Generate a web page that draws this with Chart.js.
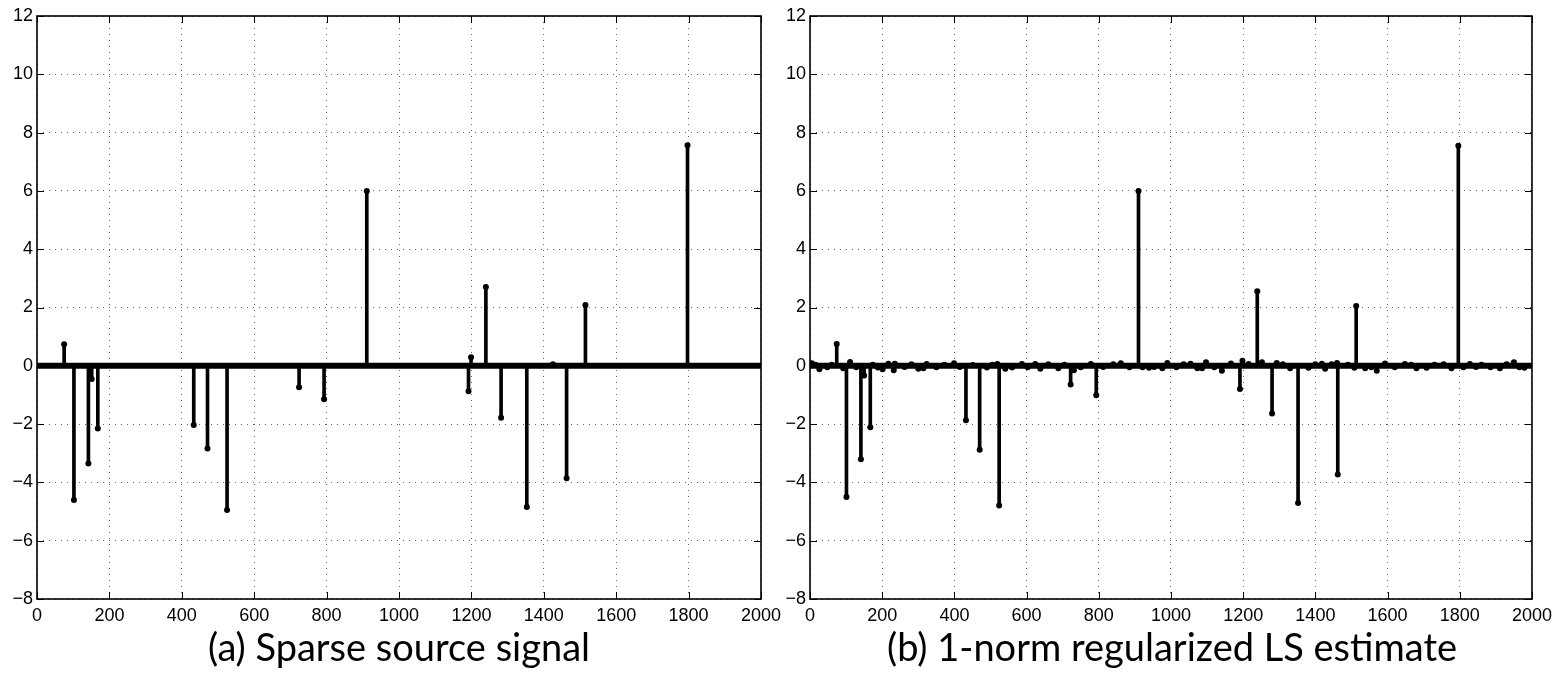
<!DOCTYPE html>
<html>
<head>
<meta charset="utf-8">
<title>Sparse source signal and 1-norm estimate</title>
<script src="https://cdn.jsdelivr.net/npm/chart.js@4.4.0/dist/chart.umd.min.js"></script>
<style>
    html, body { margin: 0; padding: 0; background: #fff; }
    #wrap { position: relative; width: 1558px; height: 674px; overflow: hidden; }
    canvas { position: absolute; left: 0; top: 0; }
    .cap {
        position: absolute; top: 623px;
        font-family: Lato, sans-serif; font-size: 38px; color: #000;
        transform: translateX(-50%); white-space: nowrap;
    }
</style>
</head>
<body>
<div id="wrap">
    <canvas id="srcChart" width="1558" height="674"></canvas>
    <canvas id="estChart" width="1558" height="674"></canvas>
    <div class="cap" style="left:399px">(a) Sparse source signal</div>
    <div class="cap" style="left:1172px">(b) 1-norm regularized LS estimate</div>
</div>

<script>
// ── Data ───────────────────────────────────────────────
const xTicks = [0, 200, 400, 600, 800, 1000, 1200, 1400, 1600, 1800, 2000];
const yTicks = [-8, -6, -4, -2, 0, 2, 4, 6, 8, 10, 12];

// (a) sparse source signal: nonzero samples
const srcIdx = [75, 102, 142, 151, 168, 433, 471, 525, 724, 793, 911,
                1192, 1199, 1240, 1282, 1353, 1425, 1463, 1515, 1797];
const srcVal = [0.74, -4.60, -3.35, -0.45, -2.15, -2.03, -2.84, -4.95, -0.74, -1.15, 6.00,
                -0.87, 0.29, 2.70, -1.78, -4.84, 0.05, -3.86, 2.09, 7.57];

// (b) 1-norm regularized LS estimate: visible nonzero samples
const estIdx = [5, 15, 26, 48, 60, 74, 92, 101, 111, 128, 141, 150, 167, 174, 188, 201, 217, 232, 235,
                262, 281, 300, 314, 323, 350, 372, 399, 415, 432, 451, 470, 490, 505, 519, 524, 541,
                560, 587, 603, 624, 638, 660, 688, 705, 722, 731, 750, 778, 793, 812, 840, 861,
                885, 910, 921, 939, 953, 976, 990, 1015, 1035, 1054, 1073, 1086, 1097, 1120,
                1141, 1166, 1191, 1198, 1215, 1239, 1252, 1280, 1293, 1310, 1330, 1352, 1381,
                1400, 1418, 1427, 1445, 1460, 1462, 1490, 1508, 1513, 1538, 1555, 1570, 1593,
                1620, 1648, 1665, 1680, 1708, 1730, 1755, 1777, 1796, 1810, 1828, 1845, 1860,
                1885, 1911, 1930, 1950, 1965, 1979];
const estVal = [0.09, 0.04, -0.12, -0.05, 0.04, 0.75, -0.08, -4.50, 0.13, -0.05, -3.21, -0.33, -2.11, 0.04, -0.06, -0.12, 0.07, -0.15, 0.07,
                -0.04, 0.05, -0.10, -0.08, 0.06, -0.05, 0.04, 0.09, -0.04, -1.87, 0.03, -2.88, -0.06, 0.04, 0.06, -4.79, -0.10,
                -0.06, 0.06, -0.05, 0.06, -0.10, 0.05, -0.08, 0.04, -0.64, -0.15, -0.05, 0.06, -1.01, -0.04, 0.05, 0.09,
                -0.05, 6.00, -0.05, -0.07, -0.04, -0.08, 0.10, -0.05, 0.05, 0.07, -0.08, -0.08, 0.12, -0.05,
                -0.17, 0.08, -0.80, 0.17, 0.06, 2.56, 0.12, -1.64, 0.10, 0.05, -0.08, -4.71, -0.07,
                0.05, 0.07, -0.10, 0.05, 0.10, -3.73, 0.04, -0.07, 2.05, -0.08, -0.05, -0.17, 0.08,
                -0.05, 0.06, 0.04, -0.08, -0.07, 0.04, 0.05, -0.08, 7.55, -0.05, 0.06, -0.04, 0.04,
                -0.05, -0.08, 0.05, 0.12, -0.05, -0.07];

// ── Frame plugin: full box + inward ticks (MATLAB style) ──
const framePlugin = {
    id: 'frame',
    afterDraw(chart) {
        const { ctx, chartArea: a, scales: { x, y } } = chart;
        const len = 7;
        ctx.save();
        ctx.strokeStyle = '#000';
        ctx.lineWidth = 1;
        ctx.beginPath();
        x.ticks.forEach(t => {
            const px = Math.round(x.getPixelForValue(t.value)) + 0.5;
            ctx.moveTo(px, a.bottom); ctx.lineTo(px, a.bottom - len);
            ctx.moveTo(px, a.top);    ctx.lineTo(px, a.top + len);
        });
        y.ticks.forEach(t => {
            const py = Math.round(y.getPixelForValue(t.value)) + 0.5;
            ctx.moveTo(a.left, py);  ctx.lineTo(a.left + len, py);
            ctx.moveTo(a.right, py); ctx.lineTo(a.right - len, py);
        });
        ctx.stroke();
        ctx.lineWidth = 1.6;
        ctx.strokeRect(a.left, a.top, a.right - a.left, a.bottom - a.top);
        ctx.restore();
    }
};

const tickFont = { family: "'Liberation Sans', Arial, sans-serif", size: 18 };
const plain = v => String(v).replace('-', '\u2212');

function makeStemChart(id, idx, val, padLeft, padRight) {
    const pts = idx.map((k, i) => ({ x: k, y: val[i] }));
    return new Chart(document.getElementById(id), {
        type: 'bar',
        data: {
            datasets: [
                {
                    type: 'line',
                    data: [{ x: xTicks[0], y: 0 }, { x: xTicks[xTicks.length - 1], y: 0 }],
                    borderColor: '#000',
                    borderWidth: 6,
                    borderCapStyle: 'round',
                    pointRadius: 0,
                    order: 1
                },
                {
                    type: 'bar',
                    data: pts,
                    backgroundColor: '#000',
                    barThickness: 3,
                    grouped: false,
                    order: 3
                },
                {
                    type: 'scatter',
                    data: pts,
                    backgroundColor: '#000',
                    borderWidth: 0,
                    pointRadius: 3,
                    order: 2
                }
            ]
        },
        options: {
            responsive: false,
            animation: false,
            layout: { padding: { left: padLeft, right: padRight, top: 16, bottom: 0 } },
            plugins: { legend: { display: false }, tooltip: { enabled: false } },
            scales: {
                x: {
                    type: 'linear',
                    min: 0, max: 2000,
                    offset: false,
                    afterBuildTicks: s => { s.ticks = xTicks.map(v => ({ value: v })); },
                    afterFit: s => { s.height = 75; },
                    grid: { color: '#666', lineWidth: 1, drawTicks: false, offset: false },
                    border: { display: false, dash: [1, 5] },
                    ticks: { color: '#000', font: tickFont, padding: 6, maxRotation: 0, autoSkip: false, callback: plain }
                },
                y: {
                    min: -8, max: 12,
                    afterBuildTicks: s => { s.ticks = yTicks.map(v => ({ value: v })); },
                    afterFit: s => { s.width = 37; },
                    grid: { color: '#666', lineWidth: 1, drawTicks: false },
                    border: { display: false, dash: [1, 5] },
                    ticks: { color: '#000', font: tickFont, padding: 4, callback: plain }
                }
            }
        },
        plugins: [framePlugin]
    });
}

makeStemChart('srcChart', srcIdx, srcVal, 0, 797);
makeStemChart('estChart', estIdx, estVal, 773, 24);
</script>
</body>
</html>
